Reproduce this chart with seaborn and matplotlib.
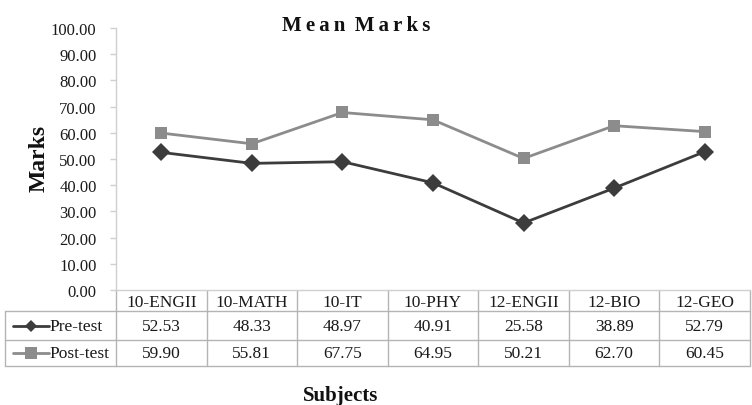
import matplotlib
matplotlib.use("Agg")
import matplotlib.pyplot as plt
from matplotlib.lines import Line2D
from matplotlib.transforms import blended_transform_factory
import pandas as pd
import seaborn as sns

subjects = ["10-ENGII", "10-MATH", "10-IT", "10-PHY", "12-ENGII", "12-BIO", "12-GEO"]
pre_test = [52.53, 48.33, 48.97, 40.91, 25.58, 38.89, 52.79]
post_test = [59.90, 55.81, 67.75, 64.95, 50.21, 62.70, 60.45]
series_names = ["Pre-test", "Post-test"]
y_ticks = [0, 10, 20, 30, 40, 50, 60, 70, 80, 90, 100]

colors = {"Pre-test": "#3c3c3c", "Post-test": "#8c8c8c"}
markers = {"Pre-test": "D", "Post-test": "s"}
grid_col = "#b4b4b4"

df = pd.DataFrame({
    "Subject": subjects * 2,
    "Marks": pre_test + post_test,
    "Test": [series_names[0]] * len(subjects) + [series_names[1]] * len(subjects),
})

sns.set_style("white")
plt.rcParams["font.family"] = ["Liberation Serif", "DejaVu Serif"]

W, H = 752, 406
fig = plt.figure(figsize=(W / 100, H / 100), dpi=100)
ax_left, ax_right, ax_top, ax_bot = 116, 750, 29, 291
ax = fig.add_axes([ax_left / W, 1 - ax_bot / H, (ax_right - ax_left) / W, (ax_bot - ax_top) / H])

sns.lineplot(data=df, x="Subject", y="Marks", hue="Test", style="Test",
             palette=colors, markers=markers, dashes=False, linewidth=2.0,
             markersize=9, markeredgewidth=0, legend=False, sort=False, ax=ax)

ax.set_xlim(-0.5, len(subjects) - 0.5)
ax.set_ylim(0, 100)
ax.set_yticks(y_ticks)
ax.set_yticklabels([f"{v:.2f}" for v in y_ticks], fontsize=12, color="#1a1a1a")
ax.set_xticks([])
ax.set_xlabel("")
ax.set_ylabel("")
for side in ["top", "right"]:
    ax.spines[side].set_visible(False)
for side in ["left", "bottom"]:
    ax.spines[side].set_color("#d0d0d0")
    ax.spines[side].set_linewidth(1.0)
ax.tick_params(axis="y", left=True, length=4, width=1, color="#d0d0d0", pad=10)

# data table under the plot, tied to the x scale
tr = blended_transform_factory(ax.transData, ax.transAxes)
def yfrac(py):
    return (ax_bot - py) / (ax_bot - ax_top)

y_hdr, y_end = yfrac(291), yfrac(367)
n = len(subjects)
for i in range(n + 1):
    ax.add_line(Line2D([i - 0.5, i - 0.5], [y_hdr, y_end], transform=tr,
                       color=grid_col, lw=1.0, clip_on=False))
fig_tr = fig.transFigure
for py in (312, 341, 367):
    fig.add_artist(Line2D([5 / W, ax_right / W], [1 - py / H, 1 - py / H],
                          transform=fig_tr, color=grid_col, lw=1.0))
fig.add_artist(Line2D([5 / W, 5 / W], [1 - 312 / H, 1 - 367 / H],
                      transform=fig_tr, color=grid_col, lw=1.0))

ty_hdr, ty_r1, ty_r2 = yfrac(303), yfrac(327), yfrac(354)
for i, s in enumerate(subjects):
    ax.text(i, ty_hdr, s, transform=tr, ha="center", va="center",
            fontsize=12.5, color="#1a1a1a", clip_on=False)
    ax.text(i, ty_r1, f"{pre_test[i]:.2f}", transform=tr, ha="center", va="center",
            fontsize=12.5, color="#1a1a1a", clip_on=False)
    ax.text(i, ty_r2, f"{post_test[i]:.2f}", transform=tr, ha="center", va="center",
            fontsize=12.5, color="#1a1a1a", clip_on=False)

# legend keys inside the table's first column
for name, py in ((series_names[0], 327), (series_names[1], 354)):
    yf = 1 - py / H
    ms = 6 if markers[name] == "D" else 8
    fig.add_artist(Line2D([13 / W, 49 / W], [yf, yf], transform=fig_tr,
                          color=colors[name], lw=2.0))
    fig.add_artist(Line2D([31 / W], [yf], transform=fig_tr, marker=markers[name],
                          markersize=ms, markeredgewidth=0, color=colors[name]))
    fig.text(49 / W, yf, name, ha="left", va="center", fontsize=12.5, color="#1a1a1a")

title = "\u2009".join("Mean") + "\u2009 " + "\u2009".join("Marks")
fig.text(356 / W, 1 - 26 / H, title, ha="center", va="center",
         fontsize=15, fontweight="bold", color="#111111")
fig.text(39 / W, 1 - 158 / H, "Marks", ha="center", va="center", rotation=90,
         fontsize=17, fontweight="bold", color="#111111")
fig.text(341 / W, 1 - 396 / H, "Subjects", ha="center", va="center",
         fontsize=15, fontweight="bold", color="#111111")

fig.savefig("out.png", dpi=100)
